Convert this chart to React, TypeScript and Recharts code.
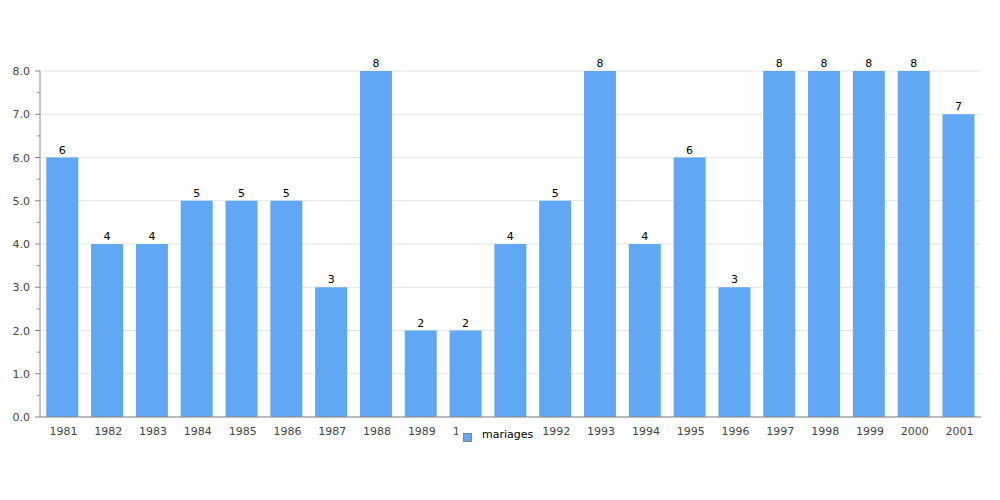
import React from 'react';
import { BarChart, Bar, XAxis, YAxis, CartesianGrid, LabelList } from 'recharts';

const years = ['1981','1982','1983','1984','1985','1986','1987','1988','1989','1990','1991','1992','1993','1994','1995','1996','1997','1998','1999','2000','2001'];
const mariages = [6,4,4,5,5,5,3,8,2,2,4,5,8,4,6,3,8,8,8,8,7];
const yTicks = [0,0.5,1,1.5,2,2.5,3,3.5,4,4.5,5,5.5,6,6.5,7,7.5,8];
const yMajor = [0,1,2,3,4,5,6,7,8];
const seriesName = 'mariages';

const data = years.map((y, i) => ({ year: y, mariages: mariages[i] }));

const FONT = '"DejaVu Sans", sans-serif';

const YTick = (props: any) => {
  const { x, y, payload } = props;
  const v = payload.value;
  const major = Number.isInteger(v);
  return (
    <g>
      <line x1={x + 8 - (major ? 5 : 3)} x2={x + 8} y1={y} y2={y} stroke="#888" />
      {major && (
        <text x={x - 2} y={y} dy={4} textAnchor="end" fontSize={11} fill="#444" fontFamily={FONT}>
          {v.toFixed(1)}
        </text>
      )}
    </g>
  );
};

const XTick = (props: any) => {
  const { x, y, payload } = props;
  return (
    <text x={x + 1} y={y} dy={10} textAnchor="middle" fontSize={11} fill="#444" fontFamily={FONT}>
      {payload.value}
    </text>
  );
};

export default function App() {
  return (
    <div style={{ position: 'absolute', left: 0, top: 0, width: 1000, height: 500, background: '#fff' }}>
      <BarChart
        width={1000}
        height={500}
        data={data}
        margin={{ top: 71, right: 19, left: 0, bottom: 53 }}
        barCategoryGap="14%"
      >
        <CartesianGrid vertical={false} stroke="#e3e3e3" horizontalValues={yMajor} />
        <XAxis
          dataKey="year"
          height={30}
          tickLine={false}
          axisLine={{ stroke: '#888' }}
          tick={<XTick />}
          interval={0}
        />
        <YAxis
          width={40}
          domain={[0, 8]}
          ticks={yTicks}
          interval={0}
          tickLine={false}
          axisLine={{ stroke: '#888' }}
          tick={<YTick />}
        />
        <Bar dataKey="mariages" fill="#61a8f4" isAnimationActive={false}>
          <LabelList dataKey="mariages" position="top" offset={4} fontSize={11} fill="#000" fontFamily={FONT} />
        </Bar>
      </BarChart>
      <div
        style={{
          position: 'absolute',
          left: 458,
          top: 426,
          width: 82,
          height: 19,
          background: '#fff',
          fontFamily: FONT,
          fontSize: 11,
          color: '#000',
        }}
      >
        <span
          style={{
            position: 'absolute',
            left: 5,
            top: 7,
            width: 7,
            height: 7,
            background: '#61a8f4',
            border: '1px solid #888',
          }}
        />
        <span style={{ position: 'absolute', left: 24, top: 2, lineHeight: '13px', whiteSpace: 'nowrap' }}>{seriesName}</span>
      </div>
    </div>
  );
}
